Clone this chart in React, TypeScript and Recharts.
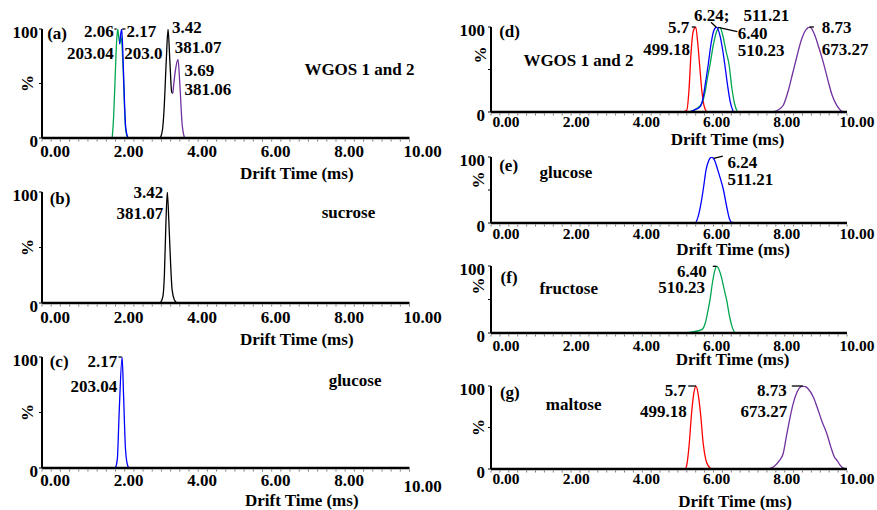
import React from 'react';
import { LineChart, Line, XAxis, YAxis, ReferenceDot, ReferenceLine } from 'recharts';

const FONT = "'Liberation Serif', 'Times New Roman', serif";

// ---------- axis labels ----------
const majorTicks = [0, 2, 4, 6, 8, 10];
const majorTickLabels = ['0.00', '2.00', '4.00', '6.00', '8.00', '10.00'];
const yTicks = [0, 50, 100];
const yTickLabels: Record<number, string> = { 0: '0', 100: '100' };
const xAxisTitle = 'Drift Time (ms)';
const yAxisTitle = '%';
const xTicks: number[] = [];
for (let i = 0; i <= 40; i++) xTicks.push(i * 0.25);

// ---------- series (drift time ms, intensity %) ----------
type Pt = { x: number; y: number };
const P = (arr: number[][]): Pt[] => arr.map(([x, y]) => ({ x, y }));

const aGreen = P([[1.91, 0], [1.95, 20], [1.99, 55], [2.03, 88], [2.06, 100], [2.09, 92], [2.12, 87], [2.15, 94], [2.2, 70], [2.27, 10], [2.33, 0]]);
const aBlue = P([[2.11, 86], [2.14, 95], [2.17, 100], [2.21, 68], [2.25, 28], [2.28, 9], [2.34, 0]]);
const aBlack = P([[3.22, 0], [3.28, 8], [3.32, 25], [3.38, 70], [3.43, 100], [3.48, 70], [3.53, 42], [3.56, 41]]);
const aPurple = P([[3.56, 41], [3.63, 62], [3.7, 72], [3.75, 50], [3.81, 14], [3.88, 0]]);

const bBlack = P([[3.22, 0], [3.29, 6], [3.33, 25], [3.37, 70], [3.41, 100], [3.45, 75], [3.5, 35], [3.54, 12], [3.6, 3], [3.68, 0]]);

const cBlue = P([[2.0, 0], [2.05, 8], [2.1, 50], [2.18, 100], [2.22, 65], [2.27, 18], [2.31, 5], [2.36, 0]]);

const dRed = P([[5.36, 0], [5.5, 2], [5.56, 25], [5.62, 70], [5.68, 95], [5.75, 100], [5.81, 80], [5.87, 50], [5.93, 22], [5.98, 8], [6.06, 0]]);
const dGreen = P([[5.57, 0], [5.78, 4], [5.92, 10], [6.02, 25], [6.08, 40], [6.15, 55], [6.25, 80], [6.34, 95], [6.43, 100], [6.5, 92], [6.6, 72], [6.69, 55], [6.76, 30], [6.84, 10], [6.92, 0]]);
const dBlue = P([[5.57, 0], [5.75, 3], [5.87, 6], [5.95, 15], [6.02, 33], [6.1, 55], [6.18, 80], [6.26, 96], [6.34, 100], [6.42, 92], [6.5, 75], [6.57, 55], [6.65, 30], [6.72, 12], [6.81, 0]]);
const dPurple = P([[7.9, 0], [8.05, 2], [8.21, 8], [8.35, 25], [8.47, 45], [8.59, 65], [8.72, 85], [8.85, 97], [8.96, 100], [9.08, 92], [9.2, 77], [9.33, 59], [9.46, 38], [9.58, 20], [9.71, 8], [9.85, 1], [9.95, 0]]);

const eBlue = P([[5.54, 0], [5.73, 0], [5.82, 10], [5.9, 30], [5.96, 50], [6.04, 80], [6.12, 95], [6.2, 100], [6.28, 95], [6.36, 82], [6.45, 66], [6.53, 50], [6.62, 25], [6.7, 6], [6.76, 1], [7.0, 0]]);

const fGreen = P([[5.5, 0], [5.7, 2], [5.92, 5], [6.02, 15], [6.1, 35], [6.15, 49], [6.22, 75], [6.28, 92], [6.34, 100], [6.4, 95], [6.48, 82], [6.55, 65], [6.62, 49], [6.7, 25], [6.78, 8], [6.85, 0]]);

const gRed = P([[4.98, 0], [5.45, 0], [5.5, 5], [5.57, 31], [5.63, 65], [5.7, 92], [5.76, 100], [5.82, 90], [5.89, 65], [5.96, 31], [6.03, 12], [6.1, 4], [6.2, 0]]);
const gPurple = P([[7.79, 0], [7.95, 3], [8.1, 10], [8.21, 19], [8.3, 40], [8.4, 62], [8.49, 79], [8.6, 93], [8.7, 99], [8.77, 100], [8.9, 97], [9.05, 87], [9.18, 72], [9.3, 57], [9.43, 43], [9.55, 26], [9.65, 14], [9.71, 11], [9.8, 5], [9.9, 1], [10.0, 0]]);

// ---------- annotations ----------
type Note = { x: number; y: number; text: string; anchor: 'start' | 'end' };
const N = (x: number, y: number, text: string, anchor: 'start' | 'end' = 'start'): Note => ({ x, y, text, anchor });

const aNotes = [N(0.14, 91, '(a)'), N(1.95, 93, '2.06', 'end'), N(1.95, 72.5, '203.04', 'end'), N(2.3, 93, '2.17'), N(2.24, 72.5, '203.0'),
  N(3.54, 96.3, '3.42'), N(3.61, 78, '381.07'), N(3.88, 57, '3.69'), N(3.88, 39.4, '381.06'), N(7.14, 57.8, 'WGOS 1 and 2')];
const bNotes = [N(0.21, 89, '(b)'), N(3.3, 94.6, '3.42', 'end'), N(3.3, 75.7, '381.07', 'end'), N(7.61, 76.3, 'sucrose')];
const cNotes = [N(0.21, 91, '(c)'), N(2.05, 91, '2.17', 'end'), N(2.05, 68.5, '203.04', 'end'), N(7.8, 74, 'glucose')];
const dNotes = [N(0.23, 88, '(d)'), N(0.91, 54, 'WGOS 1 and 2'), N(5.57, 93, '5.7', 'end'), N(5.59, 67, '499.18', 'end'),
  N(5.7, 107.6, '6.24;'), N(7.09, 107.6, '511.21'), N(6.93, 86, '6.40'), N(6.93, 66, '510.23'), N(9.29, 93, '8.73'), N(9.29, 67, '673.27')];
const eNotes = [N(0.23, 79, '(e)'), N(1.36, 68, 'glucose'), N(6.64, 83, '6.24'), N(6.64, 57.6, '511.21')];
const fNotes = [N(0.27, 74.6, '(f)'), N(1.36, 58, 'fructose'), N(6.06, 83.6, '6.40', 'end'), N(6.01, 59.7, '510.23', 'end')];
const gNotes = [N(0.25, 85.5, '(g)'), N(1.54, 71, 'maltose'), N(5.48, 88, '5.7', 'end'), N(5.5, 62.7, '499.18', 'end'), N(8.31, 88, '8.73', 'end'), N(8.32, 62.7, '673.27', 'end')];

type Seg = [number, number, number, number];
const aSegs: Seg[] = [[1.97, 100, 2.03, 100], [2.18, 100, 2.27, 100]];
const bSegs: Seg[] = [];
const cSegs: Seg[] = [[2.08, 100, 2.17, 100]];
const dSegs: Seg[] = [[5.64, 100, 5.75, 100], [8.94, 100, 9.07, 100], [6.18, 105.5, 6.33, 99.6], [6.38, 99.6, 6.92, 94.5]];
const eSegs: Seg[] = [[6.26, 98, 6.51, 101.5]];
const fSegs: Seg[] = [[6.23, 99.5, 6.34, 99.5]];
const gSegs: Seg[] = [[5.54, 100, 5.76, 100], [8.45, 100, 8.77, 100]];

// ---------- styles ----------
const GREEN = '#00a650';
const BLUE = '#0000ff';
const BLACK = '#000000';
const PURPLE = '#7030a0';
const RED = '#ff0000';

type Series = { data: Pt[]; color: string };
type PanelCfg = {
  left: number; top: number; w: number; h: number;
  series: Series[]; notes: Note[]; segs: Seg[];
  tickFont: number; tickDx: (v: number) => number; tickDy: number; lastTickDy: number;
  titleDx: number; titleDy: number; pctDx: number; pctDy: number; yLabDx: number;
};

const ML = 45, MT = 30, MR = 45, MB = 50;
const leftDx = () => 13;
const rightDx = (v: number) => 15 - 0.5 * v;

const panels: PanelCfg[] = [
  { left: 41.5, top: 29, w: 367.5, h: 109, series: [{ data: aGreen, color: GREEN }, { data: aBlue, color: BLUE }, { data: aBlack, color: BLACK }, { data: aPurple, color: PURPLE }], notes: aNotes, segs: aSegs,
    tickFont: 17, tickDx: leftDx, tickDy: 19, lastTickDy: 0, titleDx: 71, titleDy: 41, pctDx: -14.5, pctDy: 0, yLabDx: -4 },
  { left: 41.5, top: 192, w: 367.5, h: 111, series: [{ data: bBlack, color: BLACK }], notes: bNotes, segs: bSegs,
    tickFont: 17, tickDx: leftDx, tickDy: 20, lastTickDy: 0, titleDx: 71, titleDy: 42, pctDx: -14.5, pctDy: 0, yLabDx: -4 },
  { left: 41.5, top: 357, w: 367.5, h: 111, series: [{ data: cBlue, color: BLUE }], notes: cNotes, segs: cSegs,
    tickFont: 17, tickDx: leftDx, tickDy: 18, lastTickDy: 6, titleDx: 76, titleDy: 38, pctDx: -14.5, pctDy: 0, yLabDx: -4 },
  { left: 491, top: 27, w: 356, h: 85, series: [{ data: dRed, color: RED }, { data: dGreen, color: GREEN }, { data: dBlue, color: BLUE }, { data: dPurple, color: PURPLE }], notes: dNotes, segs: dSegs,
    tickFont: 15.5, tickDx: rightDx, tickDy: 15, lastTickDy: 0, titleDx: 58.5, titleDy: 33, pctDx: -11, pctDy: -14.5, yLabDx: -6 },
  { left: 491, top: 157, w: 356, h: 66, series: [{ data: eBlue, color: BLUE }], notes: eNotes, segs: eSegs,
    tickFont: 15.5, tickDx: rightDx, tickDy: 16, lastTickDy: 0, titleDx: 64, titleDy: 32, pctDx: -13, pctDy: -10, yLabDx: -6 },
  { left: 491, top: 266, w: 356, h: 67, series: [{ data: fGreen, color: GREEN }], notes: fNotes, segs: fSegs,
    tickFont: 15.5, tickDx: rightDx, tickDy: 18, lastTickDy: 0, titleDx: 63.5, titleDy: 32, pctDx: -13, pctDy: -13.5, yLabDx: -6 },
  { left: 491, top: 386, w: 356, h: 83, series: [{ data: gRed, color: RED }, { data: gPurple, color: PURPLE }], notes: gNotes, segs: gSegs,
    tickFont: 15.5, tickDx: rightDx, tickDy: 15, lastTickDy: 0, titleDx: 66, titleDy: 38, pctDx: -13, pctDy: 0, yLabDx: -6 },
];

function Panel({ cfg }: { cfg: PanelCfg }) {
  const width = cfg.w + ML + MR;
  const height = cfg.h + MT + MB;
  const xTick = (p: any) => {
    const { x, y, payload } = p;
    const v = payload.value;
    const idx = majorTicks.indexOf(v);
    return (
      <g>
        <line x1={x} x2={x} y1={y + 1.5} y2={y + 3.5} stroke="#777" strokeWidth={1} />
        {idx >= 0 && (
          <text x={x + cfg.tickDx(v)} y={y + cfg.tickDy + (v === 10 ? cfg.lastTickDy : 0)} textAnchor="middle"
            fontFamily={FONT} fontWeight="bold" fontSize={cfg.tickFont} fill="#000">{majorTickLabels[idx]}</text>
        )}
      </g>
    );
  };
  const yTick = (p: any) => {
    const { x, y, payload } = p;
    const lab = yTickLabels[payload.value];
    return (
      <g>
        <line x1={x - 3} x2={x} y1={y} y2={y} stroke="#000" strokeWidth={1} />
        {lab && (
          <text x={x + cfg.yLabDx} y={y + 9} textAnchor="end" fontFamily={FONT} fontWeight="bold" fontSize={17} fill="#000">{lab}</text>
        )}
      </g>
    );
  };
  const xTitle = (p: any) => {
    const vb = p.viewBox || {};
    return (
      <text x={vb.x + vb.width / 2 + cfg.titleDx} y={vb.y + cfg.titleDy} textAnchor="middle"
        fontFamily={FONT} fontWeight="bold" fontSize={17} fill="#000">{xAxisTitle}</text>
    );
  };
  const yTitle = (p: any) => {
    const vb = p.viewBox || {};
    const cx = vb.x + vb.width + cfg.pctDx;
    const cy = vb.y + vb.height / 2 + cfg.pctDy;
    return (
      <text x={cx} y={cy} textAnchor="middle" dominantBaseline="central" transform={`rotate(-90, ${cx}, ${cy})`}
        fontFamily={FONT} fontWeight="bold" fontSize={17} fill="#000">{yAxisTitle}</text>
    );
  };
  return (
    <div style={{ position: 'absolute', left: cfg.left - ML, top: cfg.top - MT, width, height }}>
      <LineChart width={width} height={height} margin={{ top: MT, right: MR, bottom: 0, left: 0 }}>
        <XAxis type="number" dataKey="x" domain={[0, 10]} ticks={xTicks} interval={0} allowDataOverflow
          height={MB} tickSize={0} tickMargin={0} tickLine={false}
          axisLine={{ stroke: '#000', strokeWidth: 2.5 }} tick={xTick} label={xTitle} />
        <YAxis type="number" dataKey="y" domain={[0, 100]} ticks={yTicks} interval={0} allowDataOverflow
          width={ML} tickSize={0} tickMargin={0} tickLine={false}
          axisLine={{ stroke: '#000', strokeWidth: 2 }} tick={yTick} label={yTitle} />
        {cfg.series.map((s, i) => (
          <Line key={'s' + i} data={s.data} dataKey="y" type="monotone" stroke={s.color} strokeWidth={1.3}
            dot={false} activeDot={false} isAnimationActive={false} />
        ))}
        {cfg.segs.map((sg, i) => (
          <ReferenceLine key={'g' + i} segment={[{ x: sg[0], y: sg[1] }, { x: sg[2], y: sg[3] }]}
            stroke="#000" strokeWidth={1.3} ifOverflow="visible" />
        ))}
        {cfg.notes.map((n, i) => (
          <ReferenceDot key={'n' + i} x={n.x} y={n.y} r={0} fill="none" stroke="none" ifOverflow="visible"
            label={(p: any) => {
              const vb = p.viewBox || {};
              const px = vb.x + (vb.width || 0) / 2;
              const py = vb.y + (vb.height || 0) / 2;
              return (
                <text x={px} y={py} textAnchor={n.anchor} fontFamily={FONT} fontWeight="bold" fontSize={17} fill="#000">{n.text}</text>
              );
            }} />
        ))}
      </LineChart>
    </div>
  );
}

export default function App() {
  return (
    <div style={{ position: 'absolute', left: 0, top: 0, width: 877, height: 510, background: '#fff', overflow: 'hidden' }}>
      {panels.map((cfg, i) => <Panel key={i} cfg={cfg} />)}
    </div>
  );
}
